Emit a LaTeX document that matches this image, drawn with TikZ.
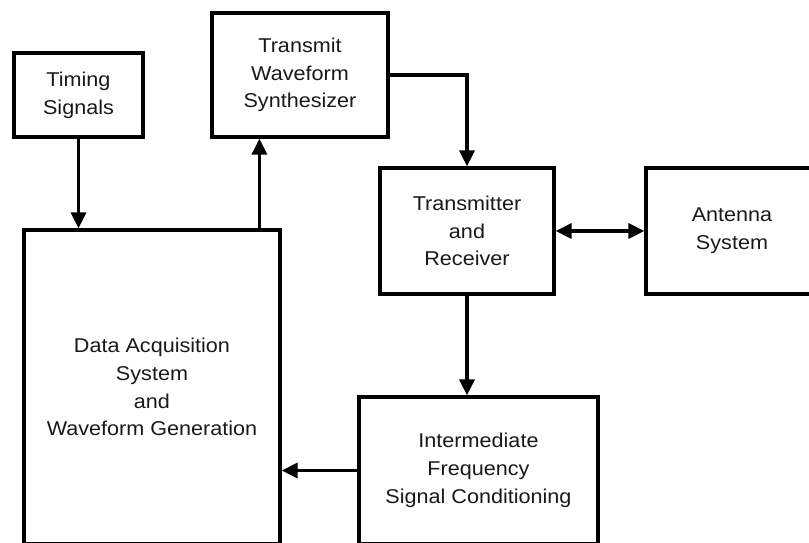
\documentclass[tikz,border=0pt]{standalone}
\usepackage{fontspec}
\setmainfont{Liberation Sans}[FakeStretch=1.08]
\usetikzlibrary{arrows.meta}
\begin{document}
\begin{tikzpicture}[x=1pt,y=-1pt,
  blk/.style={draw=black, line width=3.2pt, rectangle, inner sep=0pt, align=center,
    text=black!90, font=\fontsize{20}{27.7}\selectfont},
  arr/.style={line width=3.2pt, -{Triangle[length=16pt,width=15pt]}},
  darr/.style={line width=3.2pt, {Triangle[length=16pt,width=15pt]}-{Triangle[length=16pt,width=15pt]}}]
\useasboundingbox (0,0) rectangle (809,542);
\clip (0,0) rectangle (809,542);
\node[blk, minimum width=129pt, minimum height=84pt] (ts) at (78.5,95) {Timing\\Signals};
\node[blk, minimum width=176pt, minimum height=124pt] (tws) at (300,75) {Transmit\\Waveform\\Synthesizer};
\node[blk, minimum width=256pt, minimum height=314pt] (daq) at (152,387) {Data Acquisition\\System\\and\\Waveform Generation};
\node[blk, minimum width=174pt, minimum height=126pt] (tx) at (467,231) {Transmitter\\and\\Receiver};
\node[blk, minimum width=172pt, minimum height=126pt] (ant) at (732,231) {Antenna\\System};
\node[blk, minimum width=239pt, minimum height=147pt] (ifc) at (478.5,470.5) {Intermediate\\Frequency\\Signal Conditioning};
\coordinate (up) at ([xshift=237pt]daq.north west);
\draw[arr] (ts.south) -- (ts.south |- daq.north);
\draw[arr] (up) -- (up |- tws.south);
\draw[arr] (tws.east) -| (tx.north);
\draw[darr] (tx.east) -- (ant.west);
\draw[arr] (tx.south) -- (tx.south |- ifc.north);
\draw[arr] (ifc.west) -- (ifc.west -| daq.east);
\end{tikzpicture}
\end{document}
